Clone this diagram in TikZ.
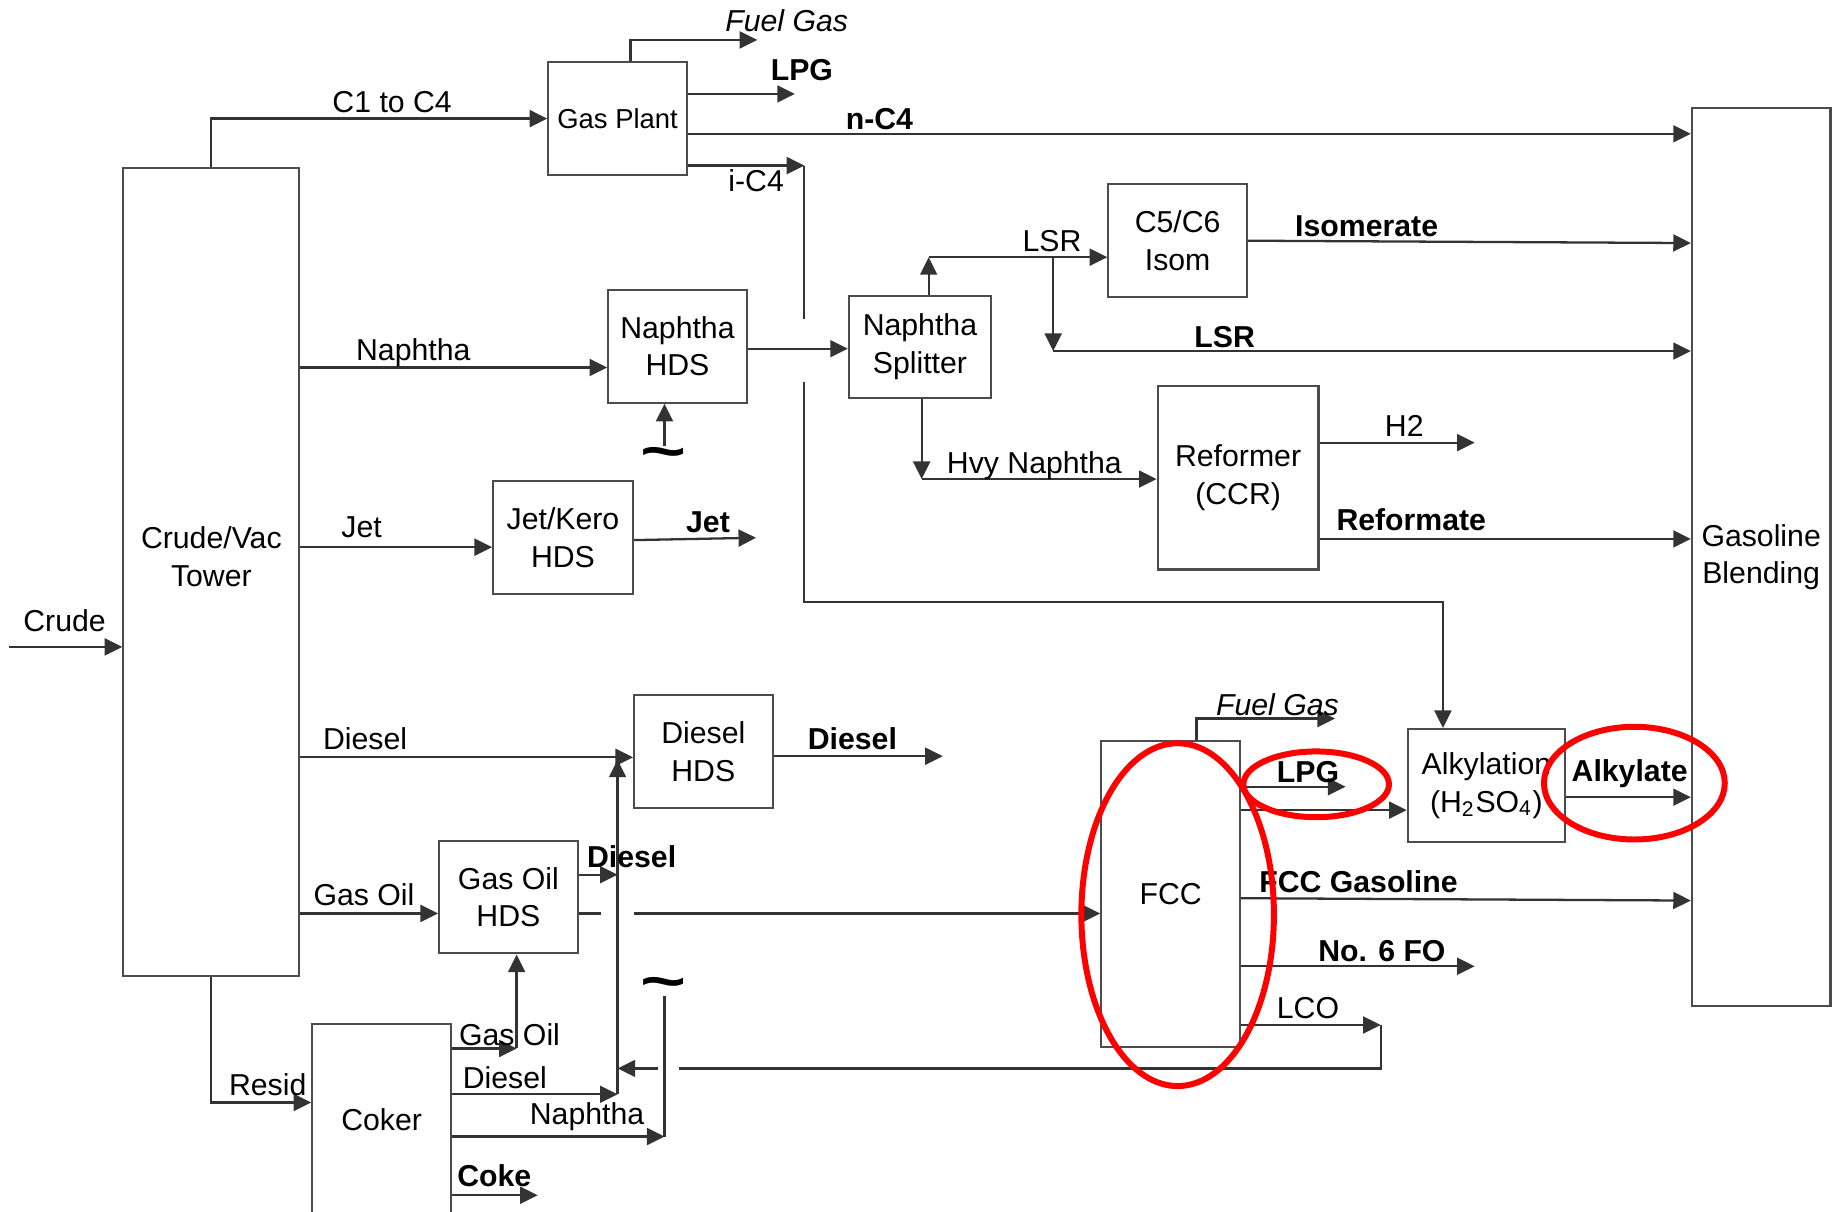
\documentclass[tikz,border=0pt]{standalone}
\usepackage{fontspec}
\setmainfont{Liberation Sans}
\usetikzlibrary{arrows.meta,positioning,calc}
\newlength\px
\setlength\px{0.011741cm}

\begin{document}
\begin{tikzpicture}[x=0.011741cm, y=-0.011741cm, >={Triangle[length=5pt,width=4.8pt]}]
    \tikzset{
        block/.style={draw=black!70, rectangle, minimum width=118\px, minimum height=96\px, inner sep=1pt, align=center, font=\fontsize{8.6}{10.7}\selectfont, line width=0.6pt},
        line/.style={draw=black!80, ->, line width=0.65pt},
        plain/.style={draw=black!80, line width=0.65pt},
        feed/.style={inner sep=0pt, font=\fontsize{8.6}{10}\selectfont},
        prod/.style={inner sep=0pt, font=\fontsize{8.6}{10}\selectfont\bfseries},
        fuel/.style={inner sep=0pt, font=\fontsize{8.6}{10}\selectfont\itshape},
        tilde/.style={inner sep=0pt, font=\fontsize{16}{16}\selectfont\bfseries},
        ring/.style={draw=red, line width=1.7pt}
    }
    \clip (0,0) rectangle (1568,1032);

    % units
    \node [block, minimum width=150\px, minimum height=688\px] (tower) at (180,487) {};
    \node [feed, align=center, font=\fontsize{8.6}{10.7}\selectfont] (ltower) at (180,474) {Crude/Vac\\Tower};
    \node [block, font=\fontsize{7.8}{9}\selectfont] (gasplant) at (526,101) {Gas Plant};
    \node [block] (nhds) at (577,295) {Naphtha\\HDS};
    \node [block, minimum width=121\px, minimum height=87\px] (splitter) at (783.5,295.5) {Naphtha\\Splitter};
    \node [block] (isom) at (1003,205) {C5/C6\\Isom};
    \node [block, minimum width=137\px, minimum height=156\px] (reformer) at (1054.5,407) {Reformer\\(CCR)};
    \node [block, minimum width=119\px] (jethds) at (479.5,458) {Jet/Kero\\HDS};
    \node [block] (dieselhds) at (599,640) {Diesel\\HDS};
    \node [block] (gohds) at (433,764) {Gas Oil\\HDS};
    \node [block, minimum height=164\px] (coker) at (325,954) {Coker};
    \node [block, minimum height=261\px] (fcc) at (997,761.5) {FCC};
    \node [block, minimum width=134\px] (alky) at (1266,669) {Alkylation\\(H\textsubscript{2}SO\textsubscript{4})};
    \node [block, minimum height=765\px] (blend) at (1500,474.5) {Gasoline\\Blending};

    % free ends
    \coordinate (crudein) at (8,551);
    \coordinate (fg1) at (645,34);
    \coordinate (lpg1) at (677,80);
    \coordinate (ic4) at (685,141);
    \coordinate (tl1) at (566,380);
    \coordinate (lsr0) at (791,219);
    \coordinate (lsr1) at (897,219);
    \coordinate (lsr2) at (897,299);
    \coordinate (hn) at (785,408);
    \coordinate (h2) at (1256,377);
    \coordinate (jet) at (644,458);
    \coordinate (dsl) at (803,644);
    \coordinate (dj) at (526,745);
    \coordinate (cgo) at (440,893);
    \coordinate (cd) at (526,932);
    \coordinate (cn) at (566,968);
    \coordinate (coke) at (458,1018);
    \coordinate (fg2) at (1137,612);
    \coordinate (lpg2) at (1146,670);
    \coordinate (fo) at (1256,823);
    \coordinate (lco) at (1176,873);

    % crude unit streams
    \draw [line] (crudein) -- (tower.west |- crudein);
    \draw [line] (tower.north) |- (gasplant.west);
    \draw [line] (tower.east |- 0,313) -- (nhds.west |- 0,313);
    \draw [line] (tower.east |- 0,466) -- (jethds.west |- 0,466);
    \draw [line] (tower.east |- 0,645) -- (dieselhds.west |- 0,645);
    \draw [line] (tower.east |- 0,778) -- (gohds.west |- 0,778);
    \draw [line] (tower.south) |- (coker.west |- 0,939);

    % gas plant
    \draw [line] (gasplant.north -| 537,0) |- (fg1);
    \draw [line] (gasplant.east |- lpg1) -- (lpg1);
    \draw [line] (gasplant.east |- 0,114) -- (blend.west |- 0,114);
    \draw [line] (gasplant.east |- ic4) -- (ic4);
    \draw [line] (ic4) -- (685,272) (685,325) -- (685,513) -| (alky.north -| 1229,0);

    % naphtha train
    \draw [line] (tl1) -- (nhds.south -| tl1);
    \draw [line] (nhds.east |- 0,297) -- (splitter.west |- 0,297);
    \draw [line] (splitter.north -| lsr0) -- (lsr0);
    \draw [line] (lsr0) -- (isom.west |- lsr0);
    \draw [line] (lsr1) -- (lsr2);
    \draw [line] (lsr2) -- (blend.west |- lsr2);
    \draw [line] (isom.east |- 0,205) -- (blend.west |- 0,207);
    \draw [line] (splitter.south -| hn) -- (hn);
    \draw [line] (hn) -- (reformer.west |- hn);
    \draw [line] (reformer.east |- h2) -- (h2);
    \draw [line] (reformer.east |- 0,459) -- (blend.west |- 0,459);

    % middle distillates
    \draw [line] (jethds.east |- 0,460) -- (jet);
    \draw [line] (dieselhds.east |- dsl) -- (dsl);
    \draw [line] (gohds.east |- dj) -- (dj);
    \draw [line] (gohds.east |- 0,778) -- (512,778) (540,778) -- (fcc.west |- 0,778);

    % coker
    \draw [line] (coker.east |- cgo) -- (cgo);
    \draw [line] (cgo) -- (gohds.south -| cgo);
    \draw [line] (coker.east |- cd) -- (cd);
    \draw [line] (cd) -- (cd |- 0,647);
    \draw [line] (coker.east |- cn) -- (cn);
    \draw [plain] (cn) -- (566,848);
    \draw [line] (coker.east |- coke) -- (coke);

    % fcc and alkylation
    \draw [line] (fcc.north -| 1019,0) |- (fg2);
    \draw [line] (fcc.east |- lpg2) -- (lpg2);
    \draw [line] (fcc.east |- 0,690) -- (alky.west |- 0,690);
    \draw [line] (alky.east |- 0,679) -- (blend.west |- 0,679);
    \draw [line] (fcc.east |- 0,765) -- (blend.west |- 0,767);
    \draw [line] (fcc.east |- fo) -- (fo);
    \draw [line] (fcc.east |- lco) -- (lco);
    \draw [line] (lco) -- (1176,910) -- (578,910) (560,910) -- (cd |- 0,910);

    % stream labels
    \node [feed] (lcrude) at (55,529) {Crude};
    \node [feed] (lc14) at (334,87) {C1 to C4};
    \node [fuel] (lfg1) at (670,18) {Fuel Gas};
    \node [prod] (llpg1) at (683,60) {LPG};
    \node [prod] (lnc4) at (749,101) {n-C4};
    \node [feed] (lic4) at (644,154) {i-C4};
    \node [feed] (lnap) at (352,300) {Naphtha};
    \node [feed] (llsr0) at (896,205) {LSR};
    \node [prod] (llsr1) at (1043,287) {LSR};
    \node [prod] (liso) at (1164,193) {Isomerate};
    \node [feed] (lhn) at (881,397) {Hvy Naphtha};
    \node [feed] (lh2) at (1196,363) {H2};
    \node [prod] (lref) at (1202,443) {Reformate};
    \node [feed] (ljet0) at (308,449) {Jet};
    \node [prod] (ljet1) at (603,445) {Jet};
    \node [feed] (ldsl0) at (311,629) {Diesel};
    \node [prod] (ldsl1) at (726,629) {Diesel};
    \node [feed] (lgo0) at (310,762) {Gas Oil};
    \node [prod] (ldsl2) at (538,730) {Diesel};
    \node [feed] (lgo1) at (434,881) {Gas Oil};
    \node [feed] (lresid) at (228,924) {Resid};
    \node [feed] (ldsl3) at (430,918) {Diesel};
    \node [feed] (lnap1) at (500,951) {Naphtha};
    \node [prod] (lcoke) at (421,1001) {Coke};
    \node [fuel] (lfg2) at (1088,600) {Fuel Gas};
    \node [prod] (llpg2) at (1114,658) {LPG};
    \node [prod] (lalk) at (1388,659) {Alkylate};
    \node [prod] (lfccg) at (1157,751) {FCC Gasoline};
    \node [prod] (lfo) at (1177,810) {No. 6 FO};
    \node [feed] (llco) at (1114,859) {LCO};
    \node [tilde] (tilde1) at (565,391) {\scalebox{1.4}[1]{\textasciitilde}};
    \node [tilde] (tilde2) at (565,842) {\scalebox{1.4}[1]{\textasciitilde}};

    % highlights
    \draw [ring] (1003,779) ellipse [x radius=82\px, y radius=146\px];
    \draw [ring] (1121,668) ellipse [x radius=62\px, y radius=28\px];
    \draw [ring] (1392,667) ellipse [x radius=77\px, y radius=48\px];
\end{tikzpicture}
\end{document}
